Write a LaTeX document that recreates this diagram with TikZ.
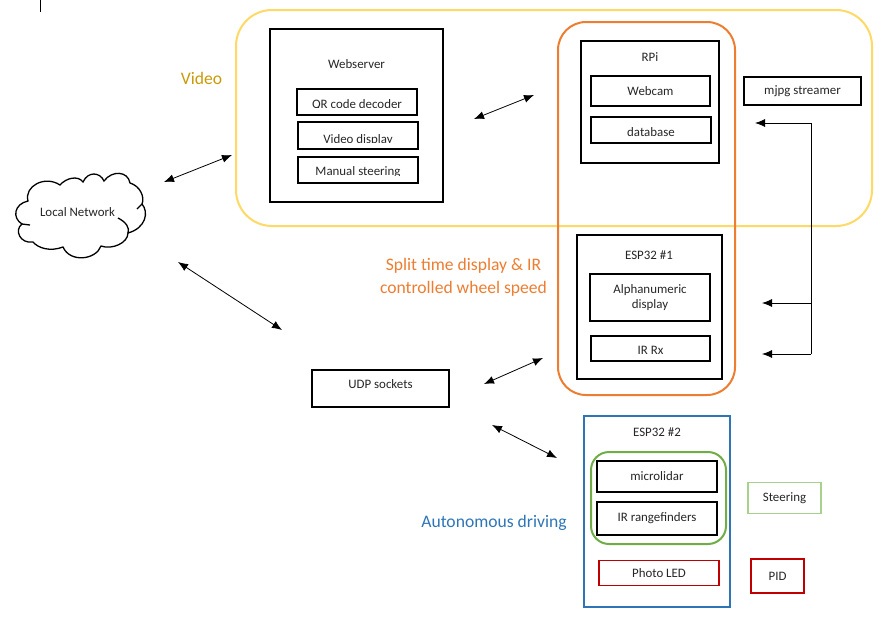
\documentclass[tikz,border=0pt]{standalone}
\usepackage{fontspec}
\setmainfont{Carlito}
\usetikzlibrary{arrows.meta,positioning}
\definecolor{vid}{HTML}{FFD966}
\definecolor{vidt}{HTML}{C99A06}
\definecolor{ora}{HTML}{ED7D31}
\definecolor{blu}{HTML}{2E75B6}
\definecolor{grn}{HTML}{70AD47}
\definecolor{lgrn}{HTML}{A9D18E}
\definecolor{rd}{HTML}{C00000}
\tikzset{
 x=1pt,y=-1pt,
 lbl/.style={font=\fontsize{12.9}{15.5}\selectfont,text=black!85,align=center,inner sep=0},
 big/.style={font=\fontsize{17.6}{23}\selectfont,align=center,inner sep=0},
 bx/.style={draw=black,line width=2pt},
 dbl/.style={line width=0.8pt,{Latex[length=10pt,width=8pt]}-{Latex[length=10pt,width=8pt]}},
 sgl/.style={line width=0.8pt,-{Latex[length=10pt,width=8pt]}},
}
\begin{document}
\begin{tikzpicture}
\useasboundingbox (0,0) rectangle (883,619);
\draw[line width=0.8pt] (40.5,0) -- (40.5,12);
% group frames
\draw[vid,line width=2pt,rounded corners=36pt] (236,10) rectangle (872,226);
\draw[ora,line width=2pt,rounded corners=28pt] (558,22) rectangle (735,395);
\draw[blu,line width=2pt] (584,416) rectangle (730,607);
\draw[grn,line width=2pt,rounded corners=18pt] (591,452) rectangle (726,544);
% webserver
\draw[bx] (270,29) rectangle (443,202);
\node[lbl] (web) at (356.5,64) {Webserver};
\foreach \nm/\xa/\ya/\xb/\yb/\cy/\ty/\tx in {
 qr/297/89/417/115/107.5/108/QR code decoder,
 vd/298/122/418/149/142.8/143/Video display,
 ms/298/157/418/183/175.2/175.5/Manual steering}{
 \begin{scope}
 \clip (\xa,\ya) rectangle (\xb,\cy);
 \node[lbl,anchor=base] (\nm) at ({(\xa+\xb)/2},\ty) {\tx};
 \end{scope}
 \draw[bx] (\xa,\ya) rectangle (\xb,\yb);
}
% RPi
\draw[bx] (581,41) rectangle (719,163);
\node[lbl] (rpi) at (650,57) {RPi};
\node[bx,lbl,minimum width=119pt,minimum height=30pt] (cam) at (650.5,91) {Webcam};
\node[bx,lbl,minimum width=120pt,minimum height=26pt,text height=12.8pt] (db) at (651,130) {database};
\node[bx,lbl,minimum width=117pt,minimum height=28pt] (mjpg) at (802.5,91) {mjpg streamer};
% ESP32 #1
\draw[bx] (577,235) rectangle (722,379);
\node[lbl] (esp1) at (649,255) {ESP32 \#1};
\node[bx,lbl,minimum width=120pt,minimum height=47pt] (alpha) at (650,297.5) {Alphanumeric\\display};
\node[bx,lbl,minimum width=119pt,minimum height=25pt,text height=12pt] (irrx) at (650.5,348) {IR Rx};
% UDP
\node[bx,lbl,minimum width=137pt,minimum height=37pt,text depth=7.5pt] (udp) at (380.5,388) {UDP sockets};
% ESP32 #2
\node[lbl] (esp2) at (657,432) {ESP32 \#2};
\node[bx,lbl,minimum width=120pt,minimum height=31pt] (lidar) at (657,476) {microlidar};
\node[bx,lbl,minimum width=120pt,minimum height=33pt] (irr) at (657,518) {IR rangefinders};
\node[lbl,draw=rd,line width=1.8pt,minimum width=120pt,minimum height=25pt] (led) at (659,573) {Photo LED};
\node[lbl,draw=lgrn,line width=1.8pt,minimum width=73pt,minimum height=31pt] (steer) at (784.5,498) {Steering};
\node[lbl,draw=rd,line width=1.8pt,minimum width=53pt,minimum height=34pt] (pid) at (777.5,576) {PID};
% labels
\node[big,text=vidt] (vl) at (201.5,78) {Video};
\node[big,text=ora] (sl) at (463.5,277.5) {Split time display \& IR\\controlled wheel speed};
\node[big,text=blu] (al) at (494,523) {Autonomous driving};
% cloud
\path[draw=black,line width=1.3pt,fill=white]
 (28,201) .. controls (24,186) and (45,175) .. (60,185)
 .. controls (66,178) and (78,175) .. (83,182)
 .. controls (88,171) and (100,172) .. (104,181)
 .. controls (112,170) and (128,171) .. (130,183)
 .. controls (140,186) and (145,197) .. (142,204)
 .. controls (149,212) and (146,228) .. (128,233)
 .. controls (128,243) and (112,250) .. (101,246)
 .. controls (96,260) and (70,263) .. (63,247)
 .. controls (50,252) and (38,248) .. (33,242)
 .. controls (20,244) and (14,230) .. (22,224)
 .. controls (12,218) and (14,204) .. (28,201) -- cycle;
\draw[line width=1.3pt] (22,224) -- (30,225);
\draw[line width=1.3pt] (118,218) .. controls (126,222) and (130,228) .. (128,233);
\draw[line width=1.3pt] (142,204) -- (137,209);
\node[lbl] (net) at (77.5,212) {Local Network};
% arrows
\coordinate (a1) at (164,182); \coordinate (a2) at (232,155);
\coordinate (b1) at (474,119); \coordinate (b2) at (534,95);
\coordinate (c1) at (178,262); \coordinate (c2) at (282,330);
\coordinate (d1) at (484,384); \coordinate (d2) at (543,358);
\coordinate (e1) at (492,425); \coordinate (e2) at (557,458);
\coordinate (f0) at (811,354); \coordinate (f1) at (755,123);
\coordinate (f2) at (762,303); \coordinate (f3) at (762,354); \coordinate (f4) at (811,123); \coordinate (f5) at (811,303);
\draw[dbl] (a1) -- (a2);
\draw[dbl] (b1) -- (b2);
\draw[dbl] (c1) -- (c2);
\draw[dbl] (d1) -- (d2);
\draw[dbl] (e1) -- (e2);
\draw[sgl] (f0) -- (f4) -- (f1);
\draw[sgl] (f5) -- (f2);
\draw[sgl] (f0) -- (f3);
\end{tikzpicture}
\end{document}
